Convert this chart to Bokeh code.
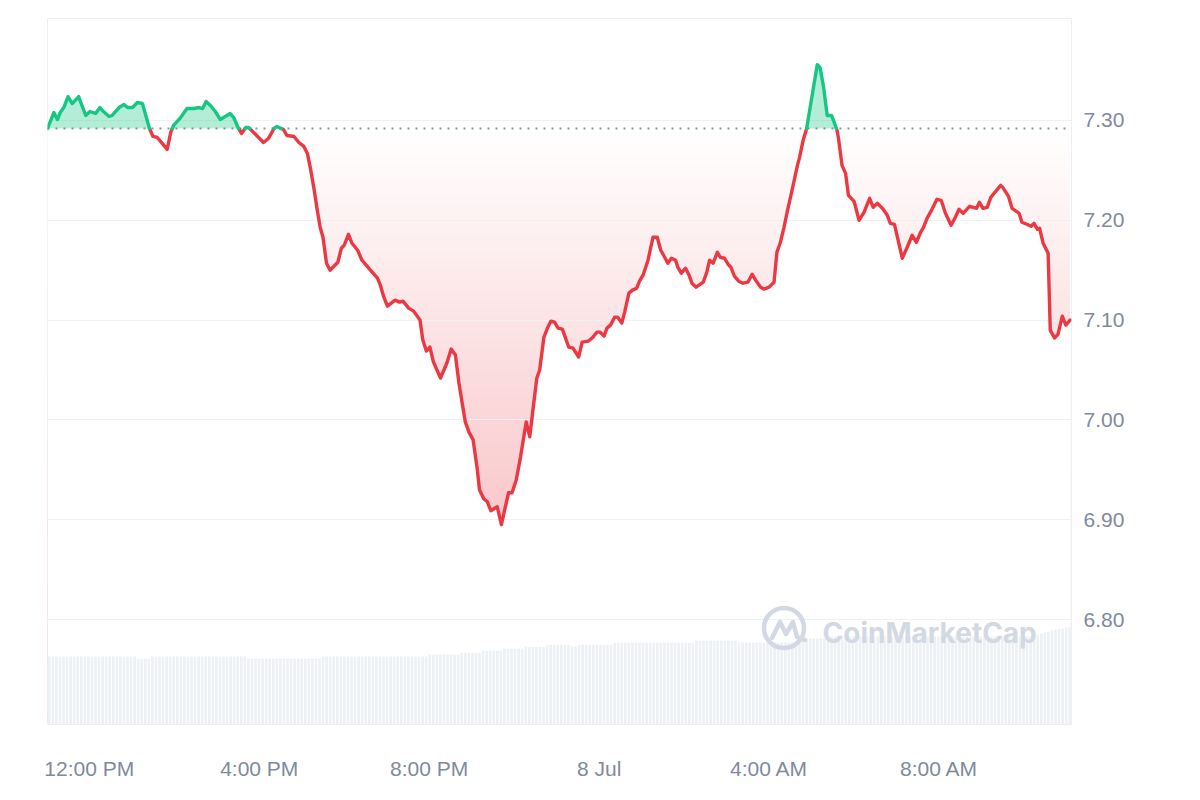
import numpy as np
from bokeh.plotting import figure
from bokeh.models import Range1d, FixedTicker, Span, Label, NumeralTickFormatter
from bokeh.embed import file_html
from bokeh.resources import INLINE

# ---------------- data (minutes since 11:00 AM, 7 Jul) ----------------
times = [1, 10, 15, 19, 24, 30, 36, 45, 55, 61, 69, 75, 80, 88, 92, 102, 109, 114, 121, 128,
         135, 139, 145, 150, 156, 163, 170, 175, 179, 189, 198, 208, 215, 220, 225, 231, 238, 245, 252, 259,
         264, 270, 275, 281, 285, 295, 306, 313, 321, 325, 334, 339, 349, 356, 363, 368, 372, 377, 382, 386,
         390, 395, 400, 411, 416, 420, 426, 431, 439, 445, 457, 467, 471, 476, 481, 492, 498, 503, 511, 518,
         527, 531, 536, 541, 546, 556, 565, 571, 577, 582, 587, 591, 596, 602, 608, 611, 617, 622, 627, 636,
         642, 646, 652, 657, 663, 669, 677, 682, 687, 692, 696, 702, 707, 712, 717, 722, 728, 737, 743, 751,
         756, 765, 770, 777, 781, 787, 791, 796, 802, 806, 812, 816, 822, 827, 833, 837, 842, 849, 856, 862,
         867, 871, 877, 882, 888, 891, 896, 902, 907, 911, 917, 927, 932, 936, 941, 947, 951, 957, 962, 966,
         971, 977, 983, 990, 996, 1001, 1008, 1013, 1020, 1027, 1031, 1036, 1041, 1046, 1053, 1060, 1063, 1068, 1073, 1088,
         1092, 1097, 1102, 1108, 1111, 1116, 1118, 1123, 1128, 1132, 1140, 1147, 1154, 1162, 1167, 1173, 1180, 1187, 1191, 1197,
         1208, 1215, 1222, 1228, 1234, 1238, 1243, 1250, 1257, 1263, 1269, 1277, 1283, 1288, 1294, 1303, 1313, 1317, 1322, 1328,
         1333, 1340, 1347, 1350, 1358, 1363, 1373, 1377, 1384, 1390, 1394, 1399, 1402, 1407, 1414, 1417, 1423, 1428, 1434, 1439,
         1445]
prices = [7.292, 7.308, 7.301, 7.308, 7.313, 7.324, 7.317, 7.324, 7.305, 7.309, 7.307, 7.313, 7.309, 7.304, 7.305, 7.313, 7.316, 7.313, 7.313, 7.318,
          7.317, 7.307, 7.292, 7.284, 7.283, 7.277, 7.271, 7.288, 7.295, 7.303, 7.312, 7.312, 7.313, 7.312, 7.319, 7.315, 7.309, 7.301, 7.304, 7.307,
          7.303, 7.293, 7.287, 7.293, 7.293, 7.286, 7.278, 7.282, 7.292, 7.294, 7.291, 7.285, 7.284, 7.278, 7.274, 7.267, 7.253, 7.233, 7.210, 7.193,
          7.183, 7.157, 7.150, 7.158, 7.172, 7.175, 7.186, 7.177, 7.170, 7.160, 7.150, 7.142, 7.135, 7.123, 7.114, 7.120, 7.118, 7.119, 7.112, 7.109,
          7.100, 7.080, 7.069, 7.073, 7.058, 7.042, 7.057, 7.071, 7.065, 7.037, 7.015, 6.998, 6.988, 6.980, 6.950, 6.930, 6.921, 6.918, 6.909, 6.913,
          6.895, 6.908, 6.927, 6.927, 6.940, 6.963, 6.998, 6.983, 7.013, 7.042, 7.050, 7.083, 7.092, 7.099, 7.098, 7.092, 7.091, 7.073, 7.072, 7.063,
          7.078, 7.079, 7.082, 7.088, 7.088, 7.084, 7.092, 7.095, 7.103, 7.103, 7.097, 7.108, 7.127, 7.130, 7.132, 7.139, 7.145, 7.160, 7.183, 7.183,
          7.170, 7.165, 7.157, 7.162, 7.160, 7.153, 7.147, 7.152, 7.145, 7.137, 7.133, 7.138, 7.148, 7.160, 7.157, 7.168, 7.163, 7.162, 7.156, 7.153,
          7.144, 7.139, 7.137, 7.138, 7.146, 7.140, 7.133, 7.131, 7.133, 7.138, 7.168, 7.178, 7.193, 7.210, 7.232, 7.255, 7.263, 7.280, 7.292, 7.356,
          7.353, 7.333, 7.305, 7.305, 7.300, 7.290, 7.282, 7.255, 7.247, 7.225, 7.219, 7.200, 7.208, 7.222, 7.213, 7.217, 7.212, 7.205, 7.197, 7.196,
          7.162, 7.173, 7.185, 7.178, 7.188, 7.193, 7.202, 7.211, 7.221, 7.220, 7.207, 7.195, 7.203, 7.211, 7.207, 7.214, 7.212, 7.218, 7.212, 7.213,
          7.223, 7.229, 7.235, 7.233, 7.224, 7.212, 7.207, 7.198, 7.196, 7.194, 7.197, 7.191, 7.192, 7.177, 7.167, 7.090, 7.082, 7.086, 7.104, 7.095,
          7.100]
base_price = 7.292

# 24h volume per 5-minute bar, run-length encoded (level, number of bars)
vol_levels = [68.0, 65.7, 68.0, 66.0, 68.0, 70.0, 71.7, 73.7, 75.7, 77.7, 79.7, 78.0, 79.7, 81.7, 83.7, 82.0, 86.0, 88.0,
              89.0, 90.0, 91.0, 92.0, 93.0, 94.0, 95.0, 96.0, 96.0, 97.0, 97.0]
vol_runs = [25, 4, 27, 21, 30, 9, 6, 6, 6, 6, 7, 2, 10, 23, 12, 18, 8, 57,
            1, 1, 1, 1, 1, 1, 1, 1, 1, 1, 1]

x_tick_minutes = [60, 300, 540, 780, 1020, 1260]
x_tick_labels = ["12:00 PM", "4:00 PM", "8:00 PM", "8 Jul", "4:00 AM", "8:00 AM"]
y_ticks = [6.80, 6.90, 7.00, 7.10, 7.20, 7.30]

GREEN = "#16c784"
RED = "#ea3943"
LABEL = "#808a9d"
GRID = "#eff2f5"

# ---------------- geometry helpers ----------------
t = np.array(times, dtype=float)
pr = np.array(prices, dtype=float)
ta, pa = [t[0]], [pr[0]]
for i in range(1, len(t)):
    a, b = pr[i - 1] - base_price, pr[i] - base_price
    if a * b < 0:
        f = (base_price - pr[i - 1]) / (pr[i] - pr[i - 1])
        ta.append(t[i - 1] + f * (t[i] - t[i - 1]))
        pa.append(base_price)
    ta.append(t[i])
    pa.append(pr[i])
ta = np.array(ta)
pa = np.array(pa)

x0, x1 = 1, 1447
y0, y1 = 6.6948, 7.4022

p = figure(width=1184, height=788, output_backend="svg", toolbar_location=None,
           x_range=Range1d(x0, x1), y_range=Range1d(y0, y1), y_axis_location="right",
           min_border_left=47, min_border_right=113, min_border_top=18, min_border_bottom=64,
           background_fill_color="white", border_fill_color="white")
p.extra_y_ranges = {"vol": Range1d(0, 706)}
p.outline_line_color = "#eceff3"

# red vertical gradient (between line and baseline)
step = 0.004
levels = np.arange(y0, base_price, step)
cols = []
for lv in levels:
    a = np.clip(0.28 * (base_price - (lv + step / 2)) / (base_price - 6.895), 0, 0.30)
    r = int(round(255 * (1 - a) + 234 * a))
    g = int(round(255 * (1 - a) + 57 * a))
    bb = int(round(255 * (1 - a) + 67 * a))
    cols.append("#%02x%02x%02x" % (r, g, bb))
p.quad(left=t[0], right=t[-1], bottom=levels, top=np.minimum(levels + step * 1.6, base_price),
       fill_color=cols, line_color=None, level="image")
# mask below the line
p.varea(x=ta, y1=np.full_like(pa, y0), y2=np.minimum(pa, base_price), fill_color="white", level="image")

# grid
p.xgrid.visible = False
p.ygrid.ticker = FixedTicker(ticks=y_ticks)
p.ygrid.grid_line_color = GRID
p.ygrid.grid_line_width = 1

# baseline
p.add_layout(Span(location=base_price, dimension="width", line_color="#8e939c",
                  line_width=2, line_dash="2 6", level="underlay"))

# green fill
p.varea(x=ta, y1=np.full_like(pa, base_price), y2=np.maximum(pa, base_price),
        fill_color=GREEN, fill_alpha=0.32)

# volume
vol_h = np.repeat(vol_levels, vol_runs)
nb = len(vol_h)
bar_w = (t[-1] - t[0] + 2) / nb
vol_x = x0 + bar_w * (np.arange(nb) + 0.5)
p.vbar(x=vol_x, top=vol_h, bottom=0, width=bar_w * 0.74, y_range_name="vol",
       fill_color="#edf0f4", line_color=None)

# watermark
wm_col = "#d2d8e4"
px_x = (x1 - x0) / 1024.0
px_y = (y1 - y0) / 706.0
cx = x0 + (783.5 - 47) * px_x
cy = y1 - (627.5 - 18) * px_y
p.scatter(x=[cx], y=[cy], marker="circle", size=40, fill_color=None, line_color=wm_col, line_width=4.5)
wave_dx = [-12, -4, 2, 9, 13, 21]
wave_dy = [10, -6, 6, -6, 9, 12]
p.line(x=[cx + d * px_x for d in wave_dx], y=[cy - d * px_y for d in wave_dy],
       line_color=wm_col, line_width=4.5, line_join="round", line_cap="round")
p.add_layout(Label(x=x0 + (822 - 47) * px_x, y=y1 - (632 - 18) * px_y, text="CoinMarketCap",
                   text_font="Inter", text_font_style="bold", text_font_size="28px",
                   text_color=wm_col, text_baseline="alphabetic", text_align="left"))

# price line
red_y = np.where(pa <= base_price, pa, np.nan)
green_y = np.where(pa >= base_price, pa, np.nan)
p.line(ta, red_y, line_color=RED, line_width=3.4, line_join="round", line_cap="round")
p.line(ta, green_y, line_color=GREEN, line_width=3.4, line_join="round", line_cap="round")

# axes
xa = p.xaxis[0]
xa.ticker = FixedTicker(ticks=x_tick_minutes)
xa.major_label_overrides = {k: v for k, v in zip(x_tick_minutes, x_tick_labels)}
ya = p.yaxis[0]
ya.ticker = FixedTicker(ticks=y_ticks)
ya.formatter = NumeralTickFormatter(format="0.00")
for ax in (xa, ya):
    ax.axis_line_color = None
    ax.major_tick_line_color = None
    ax.minor_tick_line_color = None
    ax.major_label_text_color = LABEL
    ax.major_label_text_font = "Liberation Sans"
    ax.major_label_text_font_size = "21px"
xa.major_label_standoff = 26
ya.major_label_standoff = 6

open("out.html", "w").write(file_html(p, INLINE))
